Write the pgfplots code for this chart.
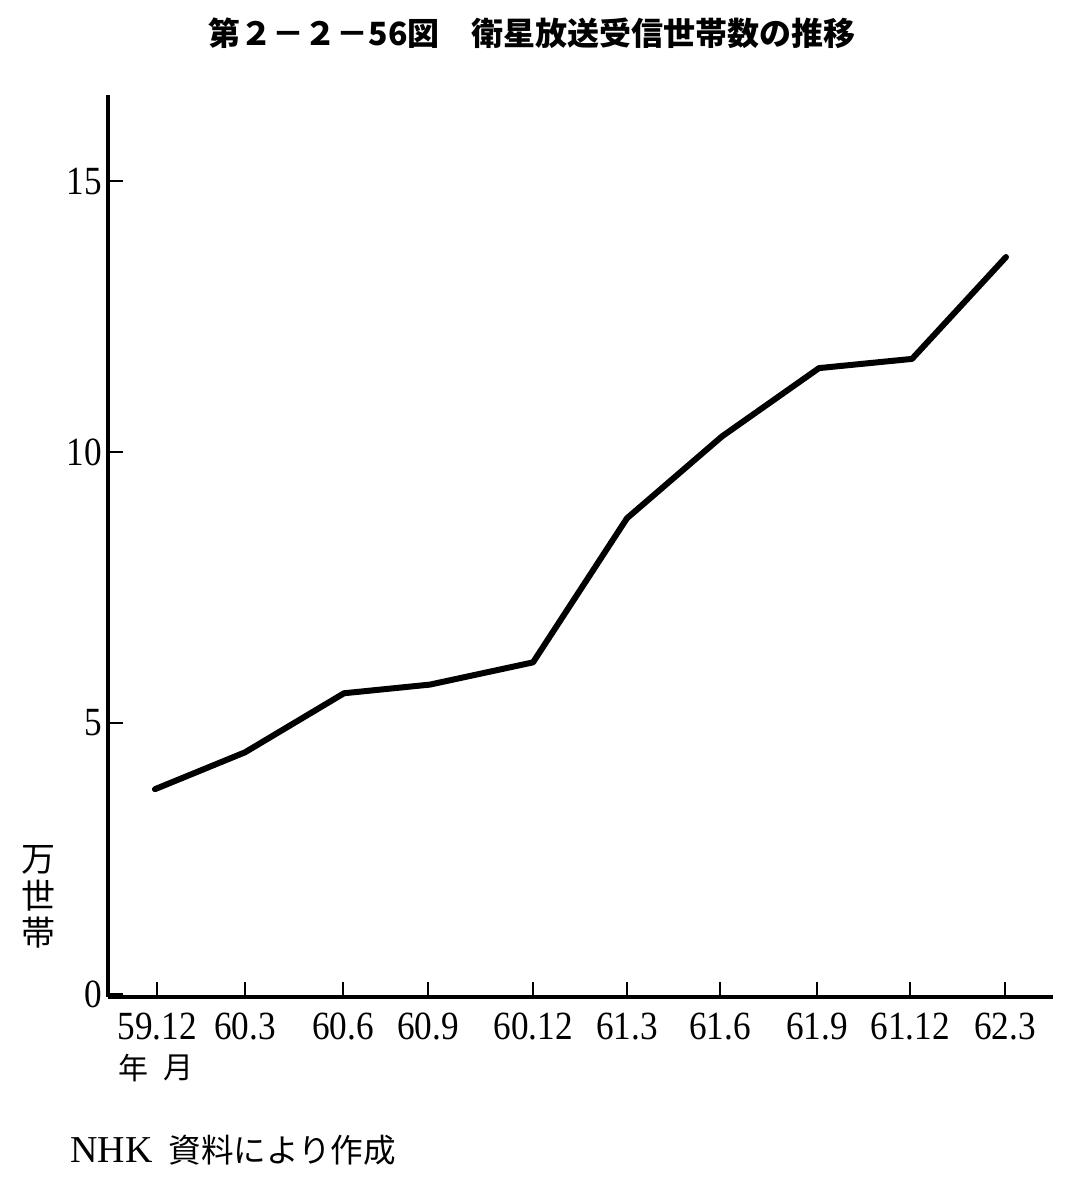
\documentclass[border=0pt]{standalone}
\usepackage{pgfplots}
\pgfplotsset{compat=1.18}
\usepackage{fontspec}
\newfontfamily\cjk{Noto Sans CJK JP}
\newfontfamily\numf{Liberation Serif}
\begin{document}
\begin{tikzpicture}
\path (0,0) rectangle (536.5pt,588.5pt);
\begin{axis}[
  at={(54pt,90pt)}, anchor=south west,
  scale only axis, width=472.5pt, height=451pt,
  xmin=108, xmax=1053, ymin=-0.055, ymax=16.59,
  axis x line*=bottom, axis y line*=left,
  axis line style={-, line width=2pt, black},
  tick align=inside, major tick length=7.5pt,
  tick style={line width=1.2pt, black},
  xtick={157,245,343,428,533,627,720,817,910,1005},
  xticklabels={59.12,60.3,60.6,60.9,60.12,61.3,61.6,61.9,61.12,62.3},
  ytick={0,5,10,15}, yticklabels={0,5,10,15},
  ticklabel style={font=\numf\fontsize{20}{22}\selectfont, xscale=0.88},
  xticklabel style={yshift=-4.5pt},
  clip=false]
\addplot[black, line width=3pt, line join=round, line cap=round] coordinates {
(155,3.78) (245,4.46) (344,5.55) (430,5.71) (533,6.12) (627,8.78) (722,10.29) (819,11.55) (912,11.72) (1006,13.60)
};
\end{axis}
\begin{scope}[shift={(0,588.5pt)}, x=0.5pt, y=-0.5pt]
\node[font=\cjk\bfseries\fontsize{16}{18}\selectfont] at (532,33) {第２－２－56図　衛星放送受信世帯数の推移};
\node[align=center, font=\cjk\fontsize{17}{18.5}\selectfont] at (38,897) {万\\世\\帯};
\node[font=\cjk\fontsize{15}{16}\selectfont] at (133,1068) {年};
\node[font=\cjk\fontsize{15}{16}\selectfont] at (178,1068) {月};
\node[anchor=west, inner sep=0pt, font=\numf\fontsize{19}{20}\selectfont] at (70,1150) {NHK};
\node[anchor=west, inner sep=0pt, font=\cjk\fontsize{16.3}{18}\selectfont] at (168,1150) {資料により作成};
\end{scope}
\end{tikzpicture}
\end{document}
